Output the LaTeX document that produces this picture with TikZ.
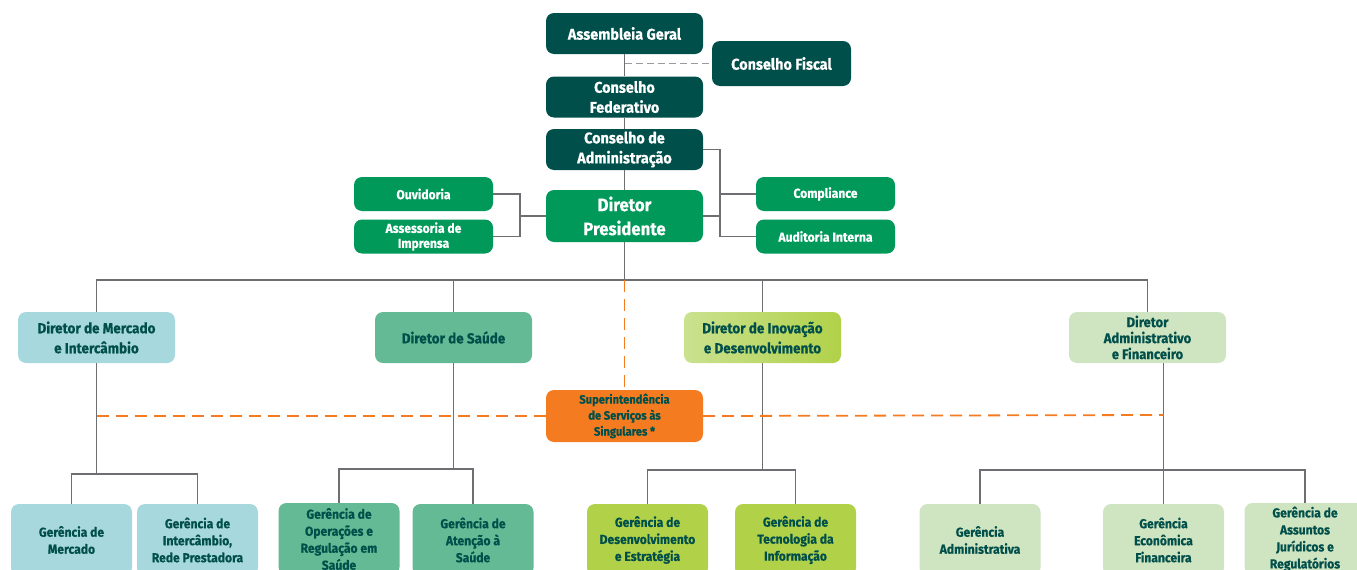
\documentclass[tikz,border=0pt]{standalone}
\usepackage{fontspec}
\setmainfont{Fira Sans}[FakeStretch=0.93, BoldFeatures={FakeBold=0.5}]
\usetikzlibrary{calc}
\definecolor{cdark}{HTML}{004F4A}
\definecolor{cgreen}{HTML}{00995A}
\definecolor{cblue}{HTML}{A7D8DE}
\definecolor{cmint}{HTML}{64BA94}
\definecolor{climeA}{HTML}{CAE18F}
\definecolor{climeB}{HTML}{B1D149}
\definecolor{cpale}{HTML}{CFE4C0}
\definecolor{corange}{HTML}{F47B20}
\definecolor{cline}{HTML}{6E6F72}
\definecolor{cdash}{HTML}{9A9AA0}
\tikzset{
  org/.style={rounded corners=8pt, inner sep=0pt, align=center},
  topbox/.style={org, fill=cdark, text=white, minimum width=157pt, minimum height=41pt,
    font={\fontsize{15.5}{20}\selectfont\bfseries}},
  presbox/.style={org, fill=cgreen, text=white, minimum width=157pt, minimum height=52pt,
    font={\fontsize{18}{24}\selectfont\bfseries}},
  sidebox/.style={org, fill=cgreen, text=white, minimum width=139pt, minimum height=34pt,
    font={\fontsize{13}{15}\selectfont\bfseries}},
  dirbox/.style={org, text=cdark, minimum width=157pt, minimum height=51pt,
    font={\fontsize{14.5}{20}\selectfont\bfseries}},
  supbox/.style={org, fill=corange, text=cdark, minimum width=157pt, minimum height=52pt,
    font={\fontsize{12}{16}\selectfont\bfseries}},
  gerbox/.style={org, text=cdark, minimum width=121pt, minimum height=72pt,
    font={\fontsize{13}{17}\selectfont\bfseries}},
  link/.style={draw=cline, line width=1.2pt},
  softlink/.style={draw=cdash, line width=1.2pt, dash pattern=on 7pt off 4pt},
  orangelink/.style={draw=corange, line width=1.8pt, dash pattern=on 12pt off 7pt},
}
\begin{document}
\begin{tikzpicture}[x=1pt,y=-1pt]
\useasboundingbox (0,0) rectangle (1357,570);
\clip (0,0) rectangle (1357,570);

% governance column
\node[topbox] (ag) at (624.5,33.5) {Assembleia Geral};
\node[topbox, minimum width=139pt, minimum height=45pt] (cf) at (781.5,63.5) {Conselho Fiscal};
\node[topbox] (cfed) at (624.5,97) {Conselho\\Federativo};
\node[topbox] (cadm) at (624.5,149.5) {Conselho de\\Administração};
\node[presbox] (dp) at (624.5,216) {Diretor\\Presidente};

% staff units beside the president
\node[sidebox] (ouv) at (423.5,194) {Ouvidoria};
\node[sidebox] (ass) at (423.5,236.5) {Assessoria de\\Imprensa};
\node[sidebox] (comp) at (825.5,194) {Compliance};
\node[sidebox] (aud) at (825.5,236.5) {Auditoria Interna};

% directors
\node[dirbox, fill=cblue] (dm) at (96.5,337.5) {Diretor de Mercado\\e Intercâmbio};
\node[dirbox, fill=cmint] (ds) at (453.5,337.5) {Diretor de Saúde};
\node[dirbox, left color=climeA, right color=climeB] (di) at (762.5,337.5) {Diretor de Inovação\\e Desenvolvimento};
\node[dirbox, fill=cpale, font={\fontsize{14}{16}\selectfont\bfseries}] (da) at (1147.5,337.5) {Diretor\\Administrativo\\e Financeiro};

% superintendence
\node[supbox] (sup) at (624.5,416) {Superintendência\\de Serviços às\\Singulares *};

% managements
\node[gerbox, fill=cblue] (g1) at (71.5,540) {Gerência de\\Mercado};
\node[gerbox, fill=cblue] (g2) at (197.5,540) {Gerência de\\Intercâmbio,\\Rede Prestadora};
\node[gerbox, fill=cmint] (g3) at (339,539) {Gerência de\\Operações e\\Regulação em\\Saúde};
\node[gerbox, fill=cmint] (g4) at (473,540) {Gerência de\\Atenção à\\Saúde};
\node[gerbox, fill=climeB] (g5) at (647.5,540) {Gerência de\\Desenvolvimento\\e Estratégia};
\node[gerbox, fill=climeB] (g6) at (795.5,540) {Gerência de\\Tecnologia da\\Informação};
\node[gerbox, fill=cpale] (g7) at (980,540) {Gerência\\Administrativa};
\node[gerbox, fill=cpale] (g8) at (1163.5,540) {Gerência\\Econômica\\Financeira};
\node[gerbox, fill=cpale] (g9) at (1305,539) {Gerência de\\Assuntos\\Jurídicos e\\Regulatórios};

% junction points
\coordinate (jl) at (520,216);
\coordinate (jr) at (720,216);
\coordinate (bus) at (624.5,280);
\coordinate (b1) at (96.5,474);
\coordinate (b2) at (453.5,469);
\coordinate (b3) at (762.5,470);
\coordinate (b4) at (1163.5,470);
\coordinate (oe) at (1163.5,415);

% grey connectors
\draw[softlink] (ag.south |- cf.west) -- (cf.west);
\draw[link] (ag.south) -- (cfed.north);
\draw[link] (cfed.south) -- (cadm.north);
\draw[link] (cadm.south) -- (dp.north);
\draw[link] (dp.south) -- (bus);
\draw[link] (ouv.east) -| (jl) |- (ass.east);
\draw[link] (dp.west) -- (jl);
\draw[link] (cadm.east) -| (jr) |- (aud.west);
\draw[link] (jr |- comp.west) -- (comp.west);
\draw[link] (dp.east) -- (jr);
\draw[link] (dm.north) |- (bus) -| (da.north);
\draw[link] (bus -| ds.north) -- (ds.north);
\draw[link] (bus -| di.north) -- (di.north);
\draw[link] (dm.south) -- (b1);
\draw[link] (g1.north) |- (b1) -| (g2.north);
\draw[link] (ds.south) -- (b2);
\draw[link] (g3.north) |- (b2) -| (g4.north);
\draw[link] (di.south) -- (b3);
\draw[link] (g5.north) |- (b3) -| (g6.north);
\draw[link] (da.south -| b4) -- (b4);
\draw[link] (g7.north) |- (b4) -| (g9.north);
\draw[link] (b4) -- (g8.north);

% orange dashed links of the superintendence
\draw[orangelink] (bus) -- (sup.north);
\draw[orangelink] (dm.south |- sup.west) -- (sup.west);
\draw[orangelink] (sup.east) -- (oe);
\end{tikzpicture}
\end{document}
